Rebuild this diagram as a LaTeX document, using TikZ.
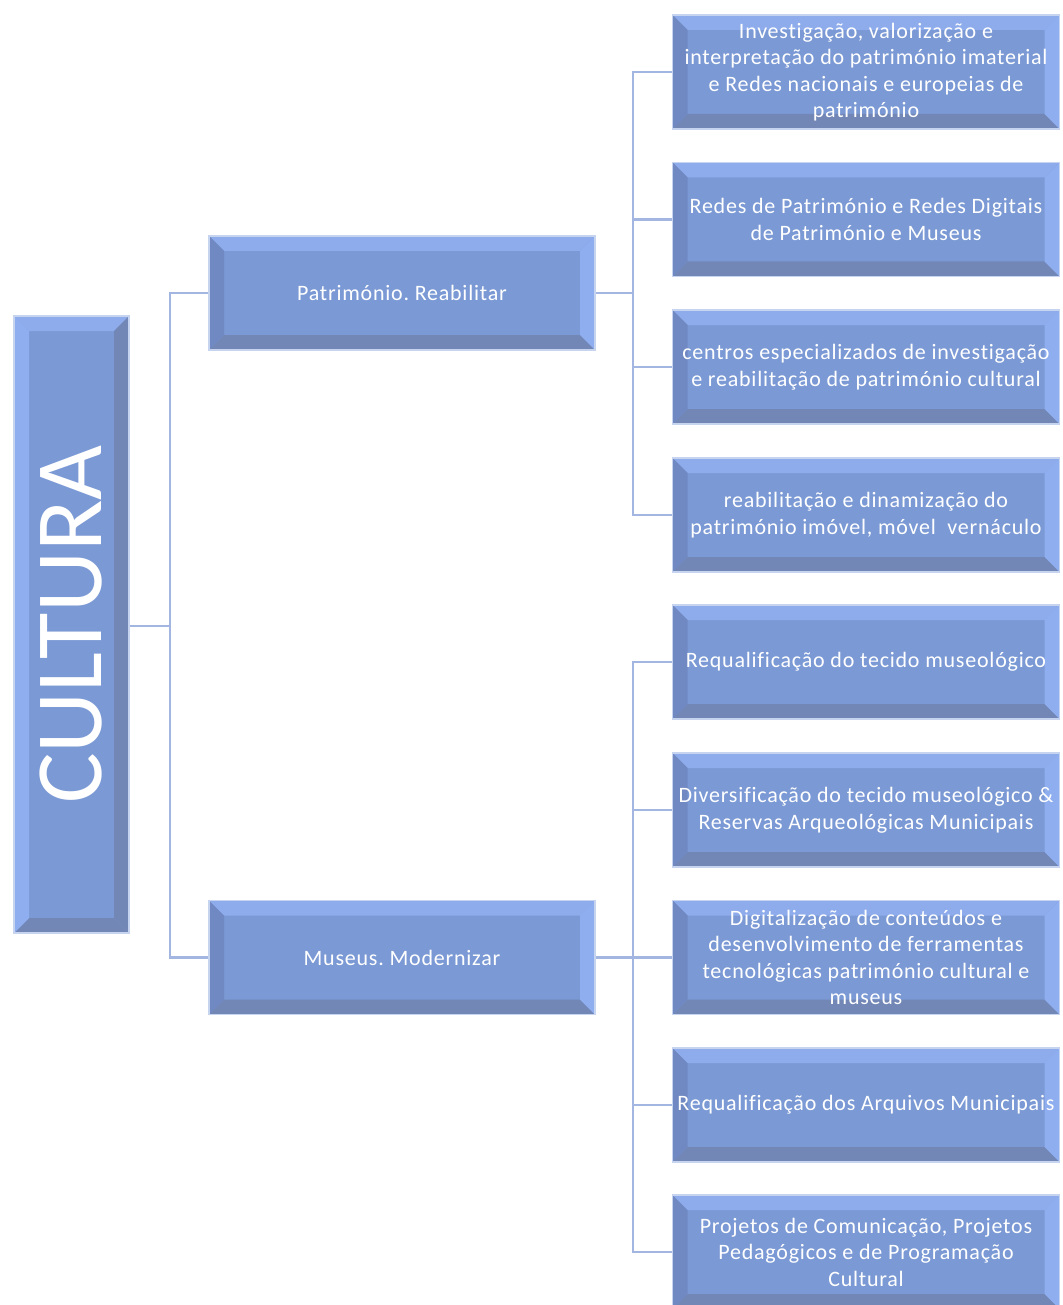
\documentclass[tikz,border=0pt]{standalone}
\usepackage{fontspec}
\setmainfont{Carlito}
\newfontfamily\boxfont[LetterSpace=3.5,Ligatures=NoCommon]{Carlito}
\definecolor{face}{HTML}{7B99D4}
\definecolor{topc}{HTML}{8EACEC}
\definecolor{botc}{HTML}{7287B6}
\definecolor{leftc}{HTML}{7089C2}
\definecolor{rightc}{HTML}{8FAEF0}
\definecolor{edgec}{HTML}{C6D4F0}
\definecolor{connc}{HTML}{A3B6E2}
\newcommand{\bw}{15pt}
\def\bevT{topc}\def\bevB{botc}\def\bevL{leftc}\def\bevR{rightc}
\tikzset{
  bevL/.code={\def\bevL{#1}}, bevR/.code={\def\bevR{#1}},
  bevbox/.style={draw=edgec, line width=1.3pt, fill=face, text=white, inner sep=0pt,
    align=center, font=\boxfont\fontsize{22}{26.5}\selectfont,
    path picture={
      \path (path picture bounding box.north west) coordinate (pNW)
            (path picture bounding box.north east) coordinate (pNE)
            (path picture bounding box.south west) coordinate (pSW)
            (path picture bounding box.south east) coordinate (pSE);
      \fill[\bevT] (pNW) -- (pNE) -- ([shift={(-\bw,-\bw)}]pNE) -- ([shift={(\bw,-\bw)}]pNW) -- cycle;
      \fill[\bevB] (pSW) -- (pSE) -- ([shift={(-\bw,\bw)}]pSE) -- ([shift={(\bw,\bw)}]pSW) -- cycle;
      \fill[\bevL] (pNW) -- (pSW) -- ([shift={(\bw,\bw)}]pSW) -- ([shift={(\bw,-\bw)}]pNW) -- cycle;
      \fill[\bevR] (pNE) -- (pSE) -- ([shift={(-\bw,\bw)}]pSE) -- ([shift={(-\bw,-\bw)}]pNE) -- cycle;
    }},
  leaf/.style={bevbox, minimum width=387pt, minimum height=114pt},
  mid/.style={bevbox, minimum width=386pt, minimum height=114pt},
  conn/.style={draw=connc, line width=2.2pt},
}
\frenchspacing
\begin{document}
\begin{tikzpicture}[x=1pt, y=-1pt]
\useasboundingbox[fill=white] (0,0) rectangle (1062,1305);

\node[bevbox, bevL=rightc, bevR=botc, minimum width=115pt, minimum height=617pt,
      font=\fontsize{95}{100}\selectfont] (cult) at (71.5,624.5) {\rotatebox{90}{CULTURA}};

\node[mid] (pat) at (402,293) {Património. Reabilitar};
\node[mid] (mus) at (402,957.5) {Museus. Modernizar};

\node[leaf] (r1) at (866,72) {Investigação, valorização e\\interpretação do património imaterial\\e Redes nacionais e europeias de\\património};
\node[leaf] (r2) at (866,219.5) {Redes de Património e Redes Digitais\\de Património e Museus};
\node[leaf] (r3) at (866,367) {centros especializados de investigação\\e reabilitação de património cultural};
\node[leaf] (r4) at (866,515) {reabilitação e dinamização do\\património imóvel, móvel\ \ vernáculo};
\node[leaf] (r5) at (866,662) {Requalificação do tecido museológico};
\node[leaf] (r6) at (866,810) {Diversificação do tecido museológico \&\\Reservas Arqueológicas Municipais};
\node[leaf] (r7) at (866,957.5) {Digitalização de conteúdos e\\desenvolvimento de ferramentas\\tecnológicas património cultural e\\museus};
\node[leaf] (r8) at (866,1105) {Requalificação dos Arquivos Municipais};
\node[leaf] (r9) at (866,1252) {Projetos de Comunicação, Projetos\\Pedagógicos e de Programação\\Cultural};

\coordinate (j0) at (170,626);
\coordinate (j1) at (633,293);
\coordinate (j2) at (633,957.5);

\draw[conn] (cult.east |- j0) -- (j0);
\draw[conn] (j0) |- (pat.west);
\draw[conn] (j0) |- (mus.west);
\draw[conn] (pat.east) -- (j1);
\foreach \i in {1,2,3,4} { \draw[conn] (j1) |- (r\i.west); }
\draw[conn] (mus.east) -- (j2);
\foreach \i in {5,6,7,8,9} { \draw[conn] (j2) |- (r\i.west); }
\end{tikzpicture}
\end{document}
